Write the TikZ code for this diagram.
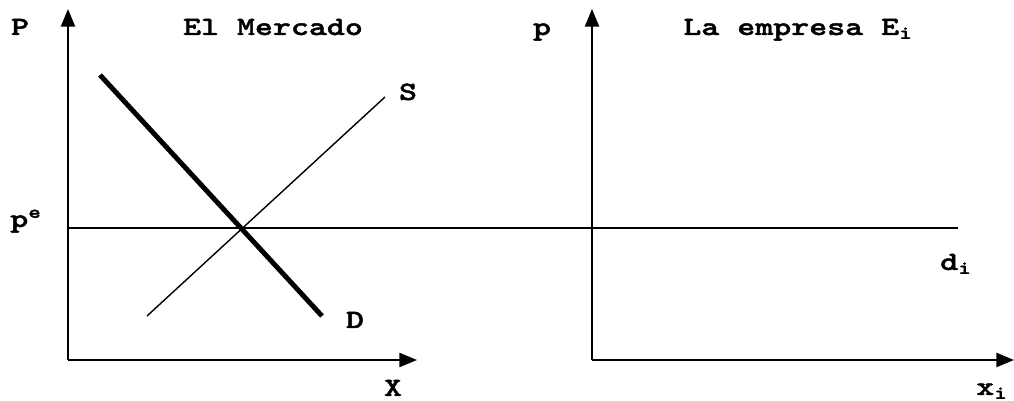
\documentclass[tikz,border=0pt]{standalone}
\usepackage{fontspec}
\newfontfamily\lblfont{lmmonolt10-bold.otf}[FakeStretch=1.3, FakeBold=1.6]
\usetikzlibrary{arrows.meta}
\tikzset{
  axis/.style={line width=1.1pt, -{Triangle[length=10pt,width=8pt]}},
  lbl/.style={font=\fontsize{15}{18}\lblfont, inner sep=0pt, anchor=base},
}
\begin{document}
\begin{tikzpicture}[x=0.02cm, y=-0.02cm]
    \useasboundingbox (0,0) rectangle (1014,401);

    % el mercado
    \coordinate (o1) at (68,360);
    \coordinate (ytop1) at (68,9);
    \coordinate (xend1) at (417,360);
    \draw[axis] (o1) -- (ytop1);
    \draw[axis] (o1) -- (xend1);

    % la empresa
    \coordinate (o2) at (592,360);
    \coordinate (ytop2) at (592,9);
    \coordinate (xend2) at (1014,360);
    \draw[axis] (o2) -- (ytop2);
    \draw[axis] (o2) -- (xend2);

    % precio de equilibrio
    \coordinate (pe1) at (68,228);
    \coordinate (pe2) at (958,228);
    \draw[line width=1pt] (pe1) -- (pe2);

    % oferta y demanda
    \coordinate (d1) at (100,75);
    \coordinate (d2) at (322,316);
    \coordinate (s1) at (147,316);
    \coordinate (s2) at (385,97);
    \draw[line width=2.8pt] (d1) -- (d2);
    \draw[line width=0.8pt] (s1) -- (s2);

    \node[lbl] (lP) at (20,35) {P};
    \node[lbl] (lmerc) at (273,35) {El Mercado};
    \node[lbl] (lp) at (542,35) {p};
    \node[lbl] (lemp) at (798,35) {La empresa E\textsubscript{i}};
    \node[lbl] (lS) at (408,100) {S};
    \node[lbl] (lpe) at (26,227) {p\textsuperscript{e}};
    \node[lbl] (ldi) at (956,270) {d\textsubscript{i}};
    \node[lbl] (lD) at (355,328) {D};
    \node[lbl] (lX) at (393,396) {X};
    \node[lbl] (lxi) at (992,395) {x\textsubscript{i}};
\end{tikzpicture}
\end{document}
